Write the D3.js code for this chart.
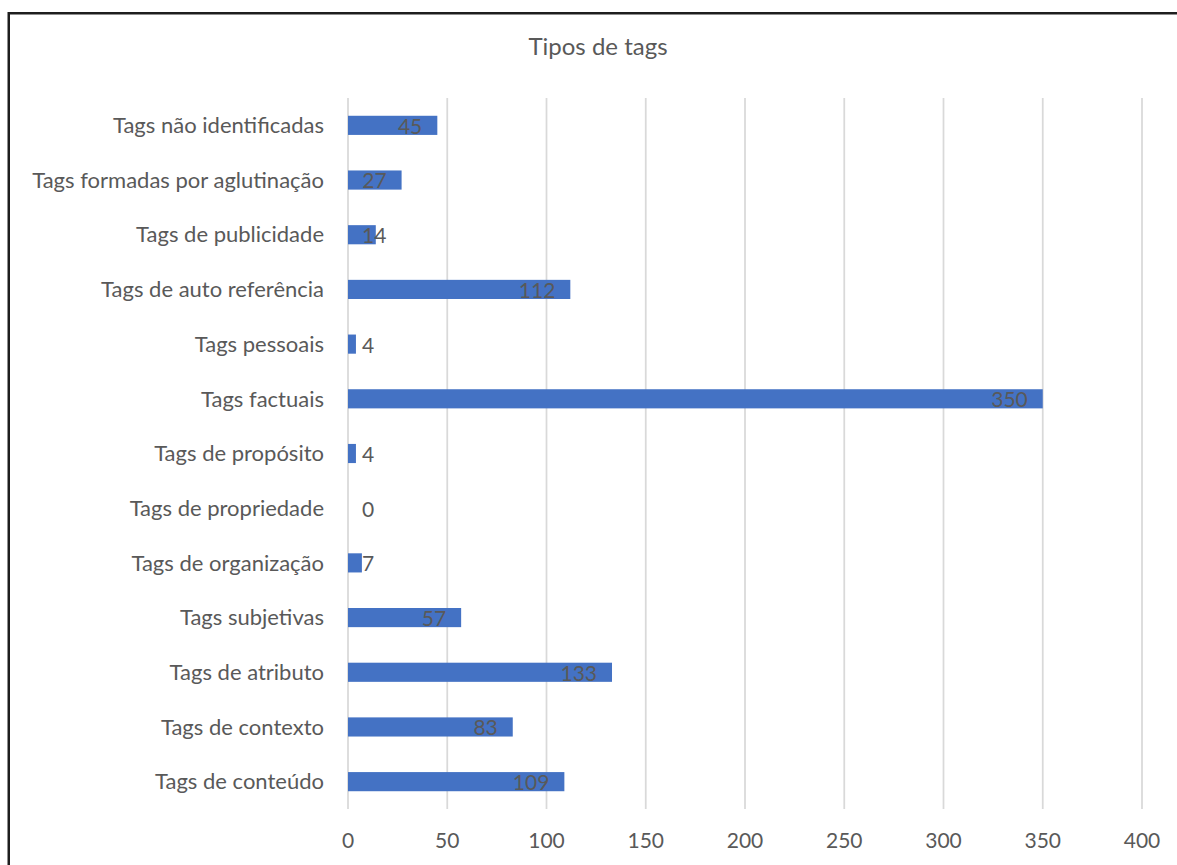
<!DOCTYPE html>
<html>
<head>
<meta charset="utf-8">
<script src="https://cdn.jsdelivr.net/npm/d3@7"></script>
<style>
  html, body { margin: 0; padding: 0; background: #fff; }
  svg { display: block; font-family: Lato, "Open Sans", sans-serif; }
</style>
</head>
<body>
<svg id="chart" width="1177" height="865"></svg>
<script>
// categorias de cima para baixo
const categories = [
  "Tags não identificadas",
  "Tags formadas por aglutinação",
  "Tags de publicidade",
  "Tags de auto referência",
  "Tags pessoais",
  "Tags factuais",
  "Tags de propósito",
  "Tags de propriedade",
  "Tags de organização",
  "Tags subjetivas",
  "Tags de atributo",
  "Tags de contexto",
  "Tags de conteúdo"
];
const values = [45, 27, 14, 112, 4, 350, 4, 0, 7, 57, 133, 83, 109];
const xTicks = [0, 50, 100, 150, 200, 250, 300, 350, 400];
const title = "Tipos de tags";

const svg = d3.select("#chart");
const plotLeft = 348, plotRight = 1142, plotTop = 98, plotBottom = 809;
const textColor = "#595959";

const x = d3.scaleLinear().domain([0, 400]).range([plotLeft, plotRight]);
const y = d3.scaleBand().domain(categories).range([plotTop, plotBottom]).paddingInner(0.65).paddingOuter(0.325);

//moldura (só topo e esquerda visíveis)
svg.append("rect")
  .attr("x", 8.75).attr("y", 13.25)
  .attr("width", 1300).attr("height", 1000)
  .attr("fill", "none")
  .attr("stroke", "#1e1e1e")
  .attr("stroke-width", 2.5);

svg.append("text")
  .attr("x", 598).attr("y", 55)
  .attr("text-anchor", "middle")
  .attr("font-size", 24)
  .attr("fill", textColor)
  .text(title);

// grelha
svg.append("g").selectAll("line")
  .data(xTicks)
  .join("line")
  .attr("x1", d => x(d)).attr("x2", d => x(d))
  .attr("y1", plotTop).attr("y2", plotBottom)
  .attr("stroke", "#d9d9d9")
  .attr("stroke-width", 1.75);

// etiquetas eixo x
svg.append("g").selectAll("text")
  .data(xTicks)
  .join("text")
  .attr("x", d => x(d))
  .attr("y", 848)
  .attr("text-anchor", "middle")
  .attr("font-size", 21)
  .attr("fill", textColor)
  .text(d => d);

// etiquetas categorias
svg.append("g").selectAll("text")
  .data(categories)
  .join("text")
  .attr("x", 324)
  .attr("y", d => y(d) + y.bandwidth() / 2)
  .attr("dy", "0.35em")
  .attr("text-anchor", "end")
  .attr("font-size", 22)
  .attr("fill", textColor)
  .text(d => d);

const rows = categories.map((c, i) => ({ cat: c, value: values[i] }));

svg.append("g").selectAll("rect")
  .data(rows)
  .join("rect")
  .attr("x", x(0))
  .attr("y", d => y(d.cat))
  .attr("width", d => x(d.value) - x(0))
  .attr("height", y.bandwidth())
  .attr("fill", "#4472C4");

// rótulos de valor: fim interior, mas nunca antes do início da barra + margem
svg.append("g").selectAll("text")
  .data(rows)
  .join("text")
  .attr("y", d => y(d.cat) + y.bandwidth() / 2)
  .attr("dy", "0.4em")
  .attr("font-size", 21)
  .attr("fill", textColor)
  .text(d => d.value)
  .each(function (d) {
    const w = this.getComputedTextLength();
    d3.select(this).attr("x", Math.max(x(d.value) - 15 - w, x(0) + 14));
  });
</script>
</body>
</html>
